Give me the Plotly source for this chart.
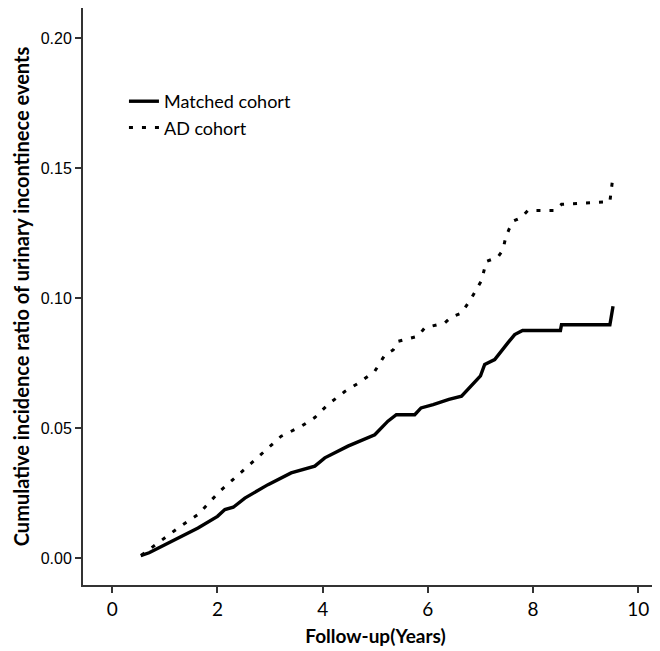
import plotly.graph_objects as go

# Matched cohort (solid curve)
matched_x = [0.54, 0.7, 1.0, 1.3, 1.63, 2.0, 2.14, 2.3, 2.52, 2.96, 3.4, 3.85, 4.04, 4.48,
             4.99, 5.24, 5.4, 5.75, 5.87, 6.1, 6.4, 6.64, 6.85, 7.0, 7.08, 7.27, 7.52, 7.65,
             7.8, 8.52, 8.54, 9.46, 9.48, 9.52]
matched_y = [0.0009, 0.002, 0.0051, 0.008, 0.0115, 0.016, 0.0186, 0.0195, 0.023, 0.0282,
             0.0327, 0.0353, 0.0385, 0.043, 0.0474, 0.0526, 0.0551, 0.0551, 0.0577, 0.059,
             0.061, 0.0622, 0.0665, 0.07, 0.0744, 0.0763, 0.0827, 0.0859, 0.0875, 0.0875,
             0.0897, 0.0897, 0.092, 0.0968]

# AD cohort (dotted curve)
ad_x = [0.55, 0.81, 1.0, 1.25, 1.63, 2.04, 2.58, 2.9, 3.21, 3.59, 3.85, 4.1, 4.42, 4.7,
        4.99, 5.18, 5.34, 5.43, 5.81, 5.94, 6.32, 6.44, 6.64, 6.83, 6.92, 7.02, 7.11, 7.33,
        7.43, 7.47, 7.54, 7.62, 7.78, 7.90, 8.41, 8.54, 9.46, 9.52]
ad_y = [0.001, 0.0049, 0.008, 0.0115, 0.0167, 0.0256, 0.0353, 0.041, 0.0468, 0.0506, 0.054,
        0.059, 0.064, 0.0675, 0.0718, 0.078, 0.080, 0.0833, 0.0853, 0.0885, 0.0904, 0.0926,
        0.0942, 0.100, 0.1032, 0.1067, 0.114, 0.1157, 0.1186, 0.1225, 0.1263, 0.1295, 0.131,
        0.1336, 0.1336, 0.136, 0.137, 0.147]

x_ticks = [0, 2, 4, 6, 8, 10]
y_ticks = [0.00, 0.05, 0.10, 0.15, 0.20]
y_tick_labels = ["0.00", "0.05", "0.10", "0.15", "0.20"]

fig = go.Figure()
fig.add_trace(go.Scatter(
    x=matched_x, y=matched_y, mode="lines", name="Matched cohort",
    line=dict(color="black", width=3.4, shape="linear"),
))
fig.add_trace(go.Scatter(
    x=ad_x, y=ad_y, mode="lines", name="AD cohort",
    line=dict(color="black", width=3, shape="linear", dash="4px,9px"),
))

fig.update_layout(
    width=660, height=651,
    margin=dict(l=75, r=0, t=0, b=74),
    paper_bgcolor="white", plot_bgcolor="white",
    showlegend=True,
    legend=dict(
        x=0.07, y=0.87, xanchor="left", yanchor="top",
        font=dict(family="Lato", size=18, color="black"),
        bgcolor="rgba(0,0,0,0)", tracegroupgap=0,
    ),
    xaxis=dict(
        range=[-0.557, 10.565], tickvals=x_ticks, ticktext=[str(v) for v in x_ticks],
        showgrid=False, zeroline=False, showline=True, linecolor="#333333", linewidth=2,
        ticks="outside", ticklen=6, tickwidth=2, tickcolor="#333333",
        tickfont=dict(family="Lato", size=19, color="black"),
        title=dict(text="<b>Follow-up(Years)</b>", font=dict(family="Lato", size=19, color="black"),
                   standoff=11),
    ),
    yaxis=dict(
        range=[-0.0104, 0.2115], tickvals=y_ticks, ticktext=y_tick_labels,
        showgrid=False, zeroline=False, showline=True, linecolor="#333333", linewidth=2,
        ticks="outside", ticklen=6, tickwidth=2, tickcolor="#333333",
        tickfont=dict(family="Liberation Sans", size=16, color="black"),
        title=dict(text="<b>Cumulative incidence ratio of urinary incontinece events</b>",
                   font=dict(family="Lato", size=20, color="black"), standoff=6),
    ),
)

fig.write_html("out.html")
